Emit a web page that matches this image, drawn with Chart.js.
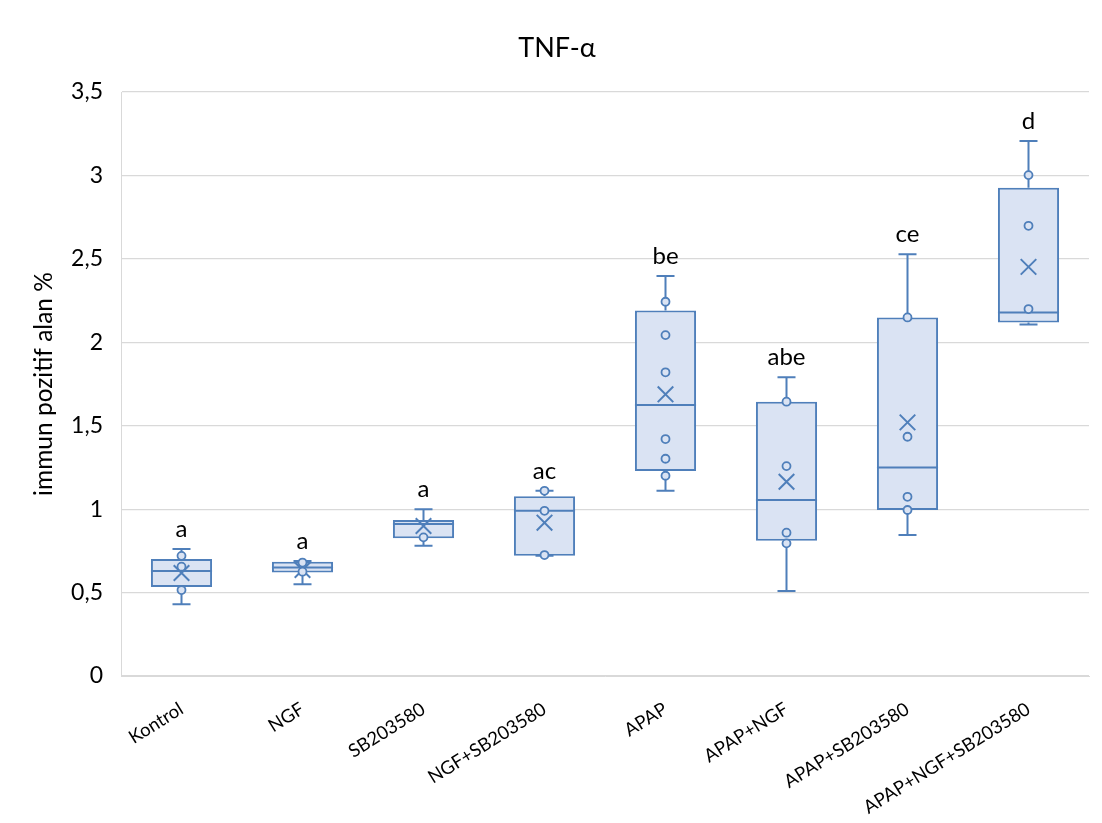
<!DOCTYPE html>
<html>
<head>
<meta charset="utf-8">
<script src="https://cdn.jsdelivr.net/npm/chart.js@4.4.1/dist/chart.umd.min.js"></script>
<style>
  html, body { margin: 0; padding: 0; background: #ffffff; }
  #wrap { width: 1102px; height: 823px; position: relative; }
</style>
</head>
<body>
<div id="wrap"><canvas id="c" width="1102" height="823"></canvas></div>
<script>
// ---- data ----
const categories = ['Kontrol', 'NGF', 'SB203580', 'NGF+SB203580', 'APAP', 'APAP+NGF', 'APAP+SB203580', 'APAP+NGF+SB203580'];
const whiskerLow  = [0.43, 0.55, 0.78, 0.72, 1.11, 0.51, 0.845, 2.107];
const q1          = [0.533, 0.621, 0.825, 0.721, 1.228, 0.811, 0.995, 2.119];
const median      = [0.629, 0.651, 0.911, 0.99, 1.624, 1.055, 1.25, 2.179];
const q3          = [0.701, 0.685, 0.935, 1.078, 2.191, 1.644, 2.149, 2.926];
const whiskerHigh = [0.761, 0.689, 1.0, 1.11, 2.398, 1.79, 2.527, 3.207];
const means       = [0.617, 0.635, 0.899, 0.919, 1.688, 1.164, 1.52, 2.452];
const innerPoints = [
  [0.72, 0.655, 0.515],
  [0.68, 0.625],
  [0.831],
  [1.11, 0.99, 0.725],
  [2.243, 2.043, 1.82, 1.42, 1.302, 1.20],
  [1.644, 1.258, 0.859, 0.795],
  [2.149, 1.434, 1.074, 0.995],
  [3.002, 2.698, 2.199]
];
const sigLetters = ['a', 'a', 'a', 'ac', 'be', 'abe', 'ce', 'd'];
const yTicks = [0, 0.5, 1, 1.5, 2, 2.5, 3, 3.5];
const chartTitle = 'TNF-\u03b1';
const yTitle = 'immun pozitif alan %';

// ---- styling ----
const STROKE = '#4f7fba';
const FILL = '#dae3f3';
const FONT = 'Lato, "Open Sans", sans-serif';

const pointData = [];
innerPoints.forEach((arr, i) => arr.forEach(v => pointData.push({ x: categories[i], y: v })));

const boxExtras = {
  id: 'boxExtras',
  afterDatasetDraw(chart, args) {
    if (args.meta.type !== 'bar') return;
    const ctx = chart.ctx;
    const xs = chart.scales.x, ys = chart.scales.y;
    ctx.save();
    ctx.strokeStyle = STROKE;
    ctx.lineWidth = 2;
    args.meta.data.forEach((bar, i) => {
      const cx = xs.getPixelForValue(i);
      const half = bar.width / 2;
      const capHalf = 9;
      const ym = ys.getPixelForValue(median[i]);
      ctx.beginPath(); ctx.moveTo(cx - half, ym); ctx.lineTo(cx + half, ym); ctx.stroke();
      const yq1 = ys.getPixelForValue(q1[i]), yq3 = ys.getPixelForValue(q3[i]);
      const ylo = ys.getPixelForValue(whiskerLow[i]), yhi = ys.getPixelForValue(whiskerHigh[i]);
      ctx.beginPath();
      ctx.moveTo(cx, yq3); ctx.lineTo(cx, yhi);
      ctx.moveTo(cx - capHalf, yhi); ctx.lineTo(cx + capHalf, yhi);
      ctx.moveTo(cx, yq1); ctx.lineTo(cx, ylo);
      ctx.moveTo(cx - capHalf, ylo); ctx.lineTo(cx + capHalf, ylo);
      ctx.stroke();
    });
    ctx.restore();
  },
  afterDraw(chart) {
    const ctx = chart.ctx;
    const xs = chart.scales.x, ys = chart.scales.y;
    ctx.save();
    ctx.fillStyle = '#000000';
    ctx.font = '24px ' + FONT;
    ctx.textAlign = 'center';
    ctx.textBaseline = 'alphabetic';
    sigLetters.forEach((t, i) => {
      ctx.fillText(t, xs.getPixelForValue(i), ys.getPixelForValue(whiskerHigh[i]) - 12);
    });
    // chart title
    ctx.font = '27px ' + FONT;
    ctx.textBaseline = 'middle';
    ctx.fillText(chartTitle, 557, 48);
    ctx.restore();
  }
};

new Chart(document.getElementById('c'), {
  type: 'bar',
  data: {
    labels: categories,
    datasets: [
      {
        type: 'line',
        label: 'points',
        data: pointData,
        showLine: false,
        pointStyle: 'circle',
        pointRadius: 4,
        pointBorderWidth: 1.8,
        pointBorderColor: STROKE,
        pointBackgroundColor: FILL,
        order: 0
      },
      {
        type: 'line',
        label: 'mean',
        data: means,
        showLine: false,
        pointStyle: 'crossRot',
        pointRadius: 11,
        pointBorderWidth: 2,
        pointBorderColor: STROKE,
        pointBackgroundColor: STROKE,
        order: 1
      },
      {
        type: 'bar',
        label: 'box',
        data: q1.map((v, i) => [v, q3[i]]),
        backgroundColor: FILL,
        borderColor: STROKE,
        borderWidth: 2,
        borderSkipped: false,
        categoryPercentage: 1,
        barPercentage: 0.505,
        order: 2
      }
    ]
  },
  options: {
    responsive: false,
    animation: false,
    events: [],
    layout: { padding: { top: 92, left: 0, right: 13, bottom: 0 } },
    plugins: {
      legend: { display: false },
      tooltip: { enabled: false },
      title: { display: false }
    },
    scales: {
      x: {
        offset: true,
        grid: { display: false },
        border: { display: true, color: '#d9d9d9', width: 1 },
        ticks: {
          autoSkip: false,
          minRotation: 32,
          maxRotation: 32,
          padding: 14,
          color: '#000000',
          font: { family: FONT, size: 18.5 }
        },
        afterFit(scale) { scale.height = 147; }
      },
      y: {
        min: 0,
        max: 3.5,
        afterBuildTicks(scale) { scale.ticks = yTicks.map(v => ({ value: v })); },
        grid: { color: '#d9d9d9', lineWidth: 1.2, drawTicks: false },
        border: { display: true, color: '#d9d9d9', width: 1 },
        ticks: {
          padding: 18,
          color: '#000000',
          font: { family: FONT, size: 23 },
          callback: v => String(v).replace('.', ',')
        },
        title: {
          display: true,
          text: yTitle,
          color: '#000000',
          font: { family: FONT, size: 24.5 },
          padding: { top: 29, bottom: 0 }
        },
        afterFit(scale) { scale.width = 121; }
      }
    }
  },
  plugins: [boxExtras]
});
</script>
</body>
</html>
